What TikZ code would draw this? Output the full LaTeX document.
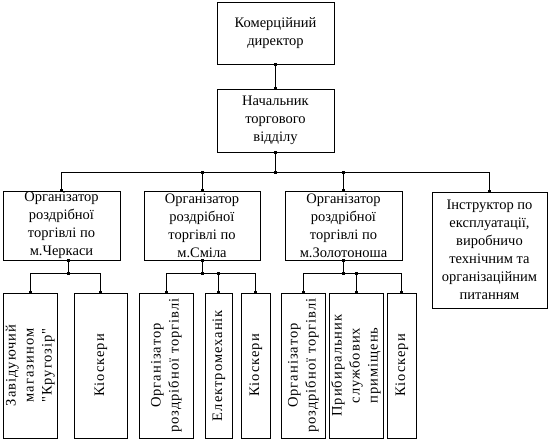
\documentclass[tikz,border=0pt]{standalone}
\usepackage{fontspec}
\usepackage{graphicx}
\setmainfont{Liberation Serif}[Ligatures=TeXOff]
\tikzset{
  every node/.style={font={\fontsize{14.5}{18}\selectfont}},
  hbox/.style={draw, line width=0.9pt, align=center, inner sep=0pt},
  vbox/.style={draw, line width=0.9pt, inner sep=0pt, minimum height=145},
  conn/.style={line width=0.9pt},
}
\newcommand\mk[1]{\fill[shift={#1}] (-1.5,-1.5) rectangle (1.5,1.5);}
\newcommand\vtext[1]{\rotatebox{90}{\addfontfeature{LetterSpace=7}\begin{tabular}{@{}c@{}}#1\end{tabular}}}
\begin{document}
\begin{tikzpicture}[x=1pt,y=-1pt]
\useasboundingbox (0,0) rectangle (549,442);
% top level
\node[hbox, minimum width=117, minimum height=62] (top) at (275.5,33) {Комерційний\\директор};
\node[hbox, minimum width=117, minimum height=63] (mgr) at (275.5,120.5) {Начальник\\торгового\\відділу};
% second level
\node[hbox, minimum width=117, minimum height=69] (cher) at (61.5,225.5) {Організатор\\роздрібної\\торгівлі по\\м.Черкаси};
\node[hbox, minimum width=116, minimum height=69] (smila) at (202,225.5) {Організатор\\роздрібної\\торгівлі по\\м.Сміла};
\node[hbox, minimum width=117, minimum height=69] (zolot) at (343.5,225.5) {Організатор\\роздрібної\\торгівлі по\\м.Золотоноша};
\node[hbox, minimum width=115, minimum height=116] (instr) at (489.5,250) {Інструктор по\\експлуатації,\\виробничо\\технічним та\\організаційним\\питанням};
% third level
\node[vbox, minimum width=54] (v1) at (30,365.5) {\vtext{Завідуючий\\магазином\\"Кругозір"}};
\node[vbox, minimum width=53] (v2) at (100.5,365.5) {\vtext{Кіоскери}};
\node[vbox, minimum width=54] (v3) at (166,365.5) {\vtext{Організатор\\роздрібної торгівлі}};
\node[vbox, minimum width=27] (v4) at (218.5,365.5) {\vtext{Електромеханік}};
\node[vbox, minimum width=29] (v5) at (255.5,365.5) {\vtext{Кіоскери}};
\node[vbox, minimum width=44] (v6) at (303,365.5) {\vtext{Організатор\\роздрібної торгівлі}};
\node[vbox, minimum width=54] (v7) at (356,365.5) {\vtext{Прибиральник\\службових\\приміщень}};
\node[vbox, minimum width=29] (v8) at (401.5,365.5) {\vtext{Кіоскери}};
% bus levels
\coordinate (b) at (0,172);
\coordinate (sb) at (0,273.5);
\coordinate (cs) at ([xshift=6.5]cher.south);
% connectors
\draw[conn] (top.south) -- (mgr.north);
\draw[conn] (mgr.south) -- (mgr.south |- b);
\draw[conn] (cher.north) -- (cher.north |- b) -- (instr.north |- b) -- (instr.north);
\draw[conn] (smila.north) -- (smila.north |- b);
\draw[conn] (zolot.north) -- (zolot.north |- b);
\draw[conn] (cs) -- (cs |- sb);
\draw[conn] (v1.north) -- (v1.north |- sb) -- (v2.north |- sb) -- (v2.north);
\draw[conn] (smila.south) -- (smila.south |- sb);
\draw[conn] (v3.north) -- (v3.north |- sb) -- (v5.north |- sb) -- (v5.north);
\draw[conn] (v4.north) -- (v4.north |- sb);
\draw[conn] (zolot.south) -- (zolot.south |- sb);
\draw[conn] (v6.north) -- (v6.north |- sb) -- (v8.north |- sb) -- (v8.north);
\draw[conn] (v7.north) -- (v7.north |- sb);
% markers
\mk{(top.south)} \mk{(mgr.north)} \mk{(mgr.south)} \mk{(mgr.south |- b)}
\mk{(smila.north |- b)} \mk{(zolot.north |- b)}
\mk{(cher.north)} \mk{(smila.north)} \mk{(zolot.north)} \mk{(instr.north)}
\mk{(cs)} \mk{(cs |- sb)}
\mk{(smila.south)} \mk{(smila.south |- sb)} \mk{(v4.north |- sb)}
\mk{(zolot.south)} \mk{(zolot.south |- sb)} \mk{(v7.north |- sb)}
\mk{(v1.north)} \mk{(v2.north)} \mk{(v3.north)} \mk{(v4.north)}
\mk{(v5.north)} \mk{(v6.north)} \mk{(v7.north)} \mk{(v8.north)}
\end{tikzpicture}
\end{document}
